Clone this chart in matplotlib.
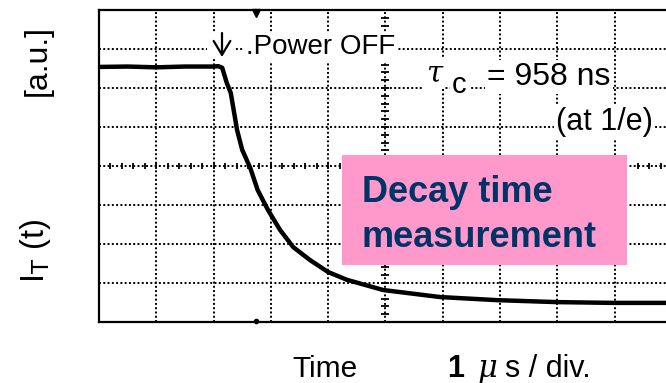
import matplotlib.pyplot as plt
from matplotlib.patches import Rectangle
import numpy as np

# decay trace: time in divisions (1 us/div), intensity in divisions
t_div = [0.0, 0.5, 1.0, 1.5, 2.0, 2.08, 2.15, 2.23, 2.30, 2.41, 2.50, 2.64, 2.77, 2.95,
         3.16, 3.39, 3.68, 4.00, 4.33, 4.96, 5.95, 6.95, 7.99, 8.97, 9.84, 10.0]
i_div = [6.54, 6.55, 6.53, 6.55, 6.55, 6.56, 6.52, 6.13, 5.87, 4.92, 4.41, 3.95, 3.38, 2.87,
         2.36, 1.92, 1.59, 1.28, 1.08, 0.82, 0.64, 0.56, 0.51, 0.49, 0.49, 0.49]

n_xdiv = 10
n_ydiv = 8
trigger_x = 2.74
tau_label = "= 958 ns"

W, H = 666, 383
fig = plt.figure(figsize=(W / 100, H / 100), dpi=100)
fam = ["Liberation Sans", "DejaVu Sans"]


def fx(x):
    return x / W


def fy(y):
    return 1 - y / H


ax = fig.add_axes([fx(99), fy(322), fx(672 - 99), (322 - 10) / H])
ax.set_xlim(0, n_xdiv)
ax.set_ylim(0, n_ydiv)
ax.set_xticks([])
ax.set_yticks([])
for s in ax.spines.values():
    s.set_linewidth(1.6)
    s.set_color("black")

# graticule
for gx in range(1, n_xdiv):
    ax.axvline(gx, color="black", lw=1.4, ls=(0, (1, 1.2)), zorder=1)
for gy in range(1, n_ydiv):
    ax.axhline(gy, color="black", lw=1.4, ls=(0, (1, 1.2)), zorder=1)

# minor ticks on the centre lines
yt = np.arange(0.2, n_ydiv, 0.2)
ax.plot(np.full(len(yt), 5.0), yt, ls="none", marker="_", ms=6, mew=1.3, color="black", zorder=1)
xt = np.arange(0.2, n_xdiv, 0.2)
ax.plot(xt, np.full(len(xt), 4.0), ls="none", marker="|", ms=5, mew=1.3, color="black", zorder=1)

# trigger markers
ax.plot([trigger_x], [n_ydiv - 0.08], marker="v", ms=6, color="black", clip_on=False, zorder=3)
ax.plot([trigger_x], [0.03], marker="o", ms=3, color="black", clip_on=False, zorder=3)

ax.plot(t_div, i_div, color="black", lw=3.2, solid_joinstyle="round", zorder=4)

white = dict(facecolor="white", edgecolor="none", pad=1.5)

# power-off arrow
fig.patches.append(Rectangle((fx(207), fy(59)), fx(234 - 207), (59 - 32) / H,
                             transform=fig.transFigure, facecolor="white", edgecolor="none",
                             zorder=5))
fig.add_artist(plt.Annotation("", xy=(fx(222), fy(57)), xytext=(fx(222), fy(33)),
                              xycoords="figure fraction", textcoords="figure fraction",
                              arrowprops=dict(arrowstyle="->, head_length=0.5, head_width=0.3",
                                              lw=1.6, color="black", mutation_scale=20,
                                              shrinkA=0, shrinkB=0),
                              zorder=6))
fig.text(fx(246), fy(54), ".Power OFF", fontsize=20, family=fam, va="baseline", bbox=white, zorder=5)

fig.text(fx(426), fy(81), "\u03c4", fontsize=21, family=["DejaVu Serif"], style="italic",
         va="baseline", bbox=white, zorder=5)
fig.text(fx(452), fy(93), "c", fontsize=21, family=fam, va="baseline", bbox=white, zorder=5)
fig.text(fx(487), fy(85), tau_label, fontsize=23, family=fam, va="baseline", bbox=white, zorder=5)
fig.text(fx(556), fy(130), "(at 1/e)", fontsize=22, family=fam, va="baseline", bbox=white, zorder=5)

fig.text(fx(53), fy(61), "[a.u.]", fontsize=23, family=fam, rotation=90, ha="right", va="center")
fig.text(fx(53), fy(251), "I$_{\\rm T}$ (t)", fontsize=23.5, family=fam, rotation=90,
         ha="right", va="center")

fig.text(fx(292), fy(377), "Time", fontsize=21.5, family=fam, va="baseline")
fig.text(fx(447), fy(377), "1", fontsize=22, family=fam, weight="bold", va="baseline")
fig.text(fx(478), fy(377), "\u03bc", fontsize=22, family=["DejaVu Serif"], style="italic", va="baseline")
fig.text(fx(505), fy(377), "s / div.", fontsize=22, family=fam, va="baseline")

# pink note box
fig.patches.append(Rectangle((fx(342), fy(265)), fx(627 - 342), (265 - 155) / H,
                             transform=fig.transFigure, facecolor="#ff99cc", edgecolor="none",
                             zorder=6))
fig.text(fx(362), fy(202), "Decay time", fontsize=26, family=fam, weight="bold",
         color="#003366", va="baseline", zorder=7)
fig.text(fx(362), fy(247), "measurement", fontsize=26, family=fam, weight="bold",
         color="#003366", va="baseline", zorder=7)

fig.savefig("out.png", dpi=100)
